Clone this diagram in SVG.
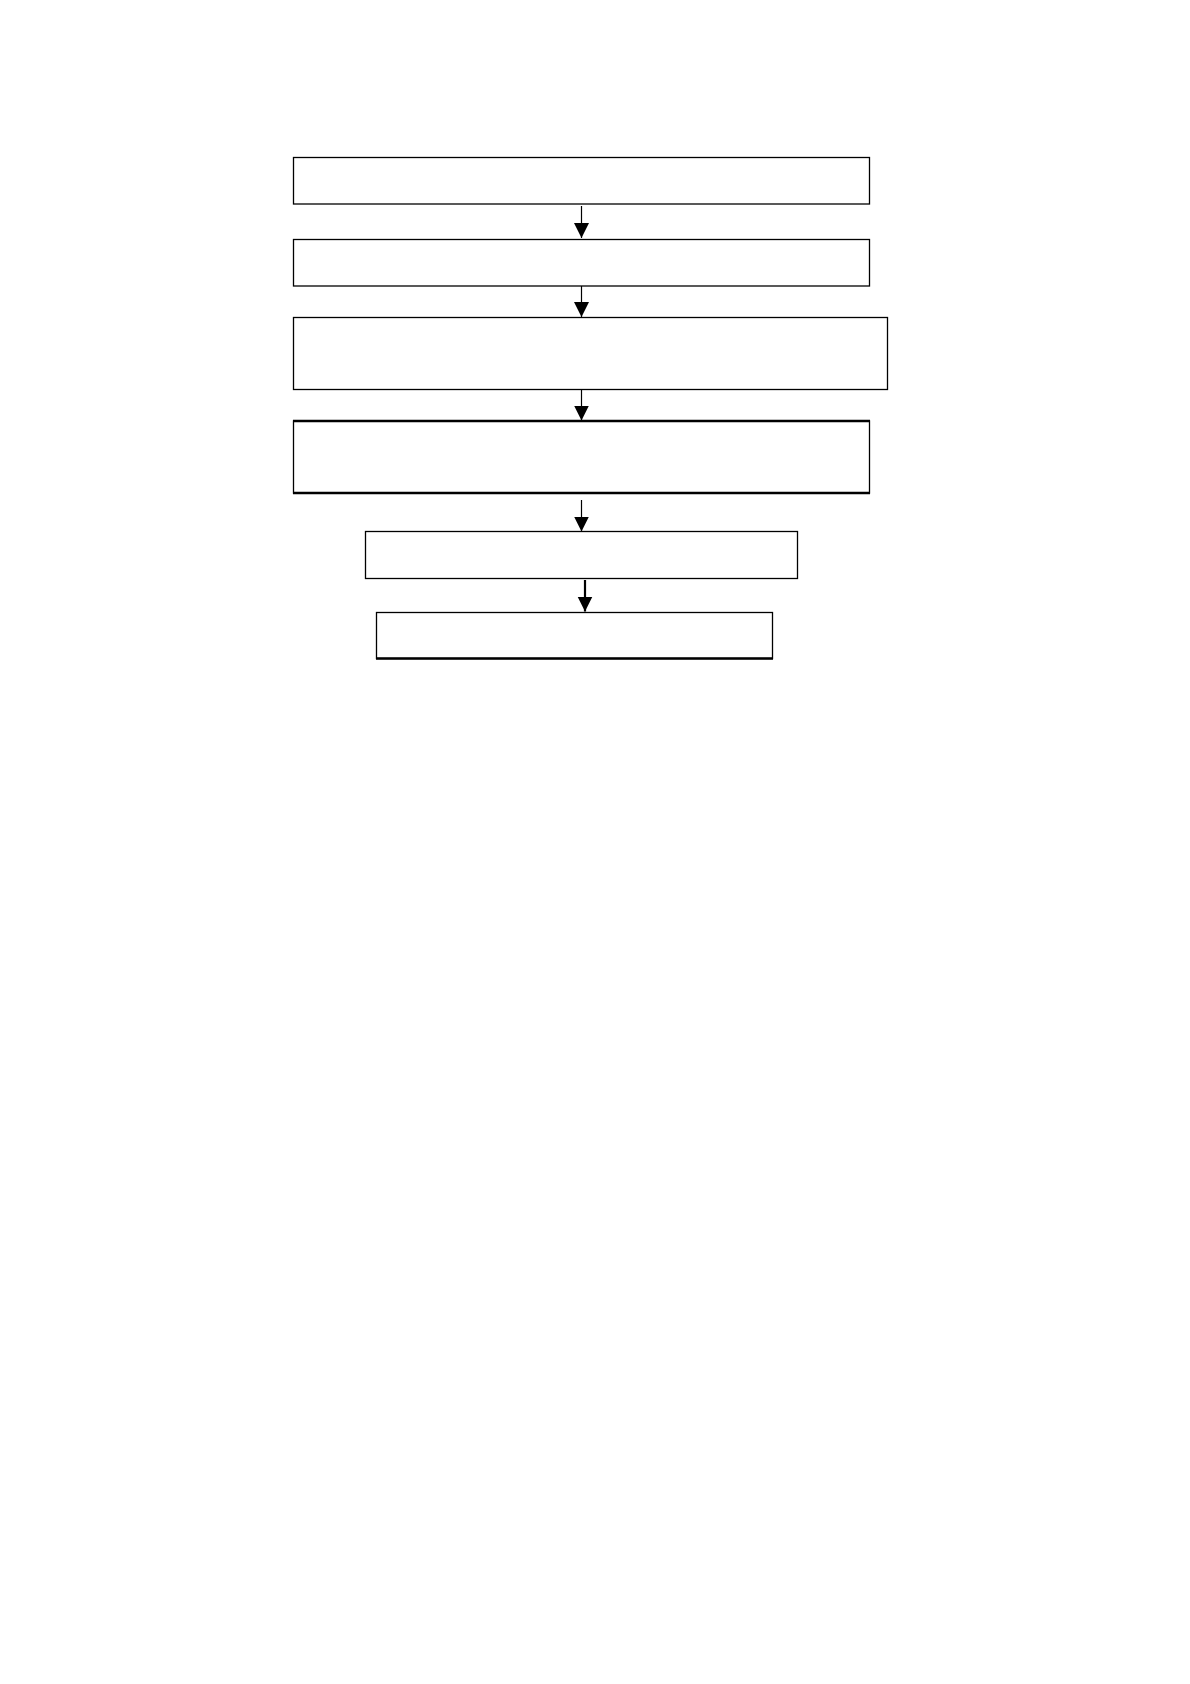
<svg xmlns="http://www.w3.org/2000/svg" width="1190" height="1684" viewBox="0 0 1190 1684">
<style>
.box{fill:#fff;stroke:#000;stroke-width:1.3}
.edge{stroke:#000;stroke-width:1.2;fill:none}
.thick{stroke:#000;stroke-width:2.4}
</style>
<defs>
<marker id="ah" markerUnits="userSpaceOnUse" markerWidth="16" markerHeight="16" refX="15" refY="7.5" orient="auto">
<path d="M0,0 L15,7.5 L0,15 Z" fill="#000"/>
</marker>
</defs>
<rect width="1190" height="1684" fill="#fff"/>
<g id="connectors">
<line class="edge" x1="581.5" y1="206" x2="581.5" y2="238" marker-end="url(#ah)"/>
<line class="edge" x1="581.5" y1="286" x2="581.5" y2="317" marker-end="url(#ah)"/>
<line class="edge" x1="581.5" y1="389" x2="581.5" y2="420.5" marker-end="url(#ah)"/>
<line class="edge" x1="581.5" y1="500" x2="581.5" y2="531.5" marker-end="url(#ah)"/>
<line class="edge" style="stroke-width:2.2" x1="585" y1="580" x2="585" y2="611.5" marker-end="url(#ah)"/>
</g>
<g id="n1"><rect class="box" x="293.5" y="157.5" width="576" height="46.5"/></g>
<g id="n2"><rect class="box" x="293.5" y="239.5" width="576" height="46.5"/></g>
<g id="n3"><rect class="box" x="293.5" y="317.5" width="594" height="72"/></g>
<g id="n4"><rect class="box" x="293.5" y="421" width="576" height="72"/>
<line class="thick" x1="293" y1="421" x2="870" y2="421"/>
<line class="thick" x1="293" y1="493" x2="870" y2="493"/></g>
<g id="n5"><rect class="box" x="365.5" y="531.5" width="432" height="47"/></g>
<g id="n6"><rect class="box" x="376.5" y="612.5" width="396" height="46"/>
<line class="thick" x1="376" y1="658.5" x2="773" y2="658.5"/></g>
</svg>
